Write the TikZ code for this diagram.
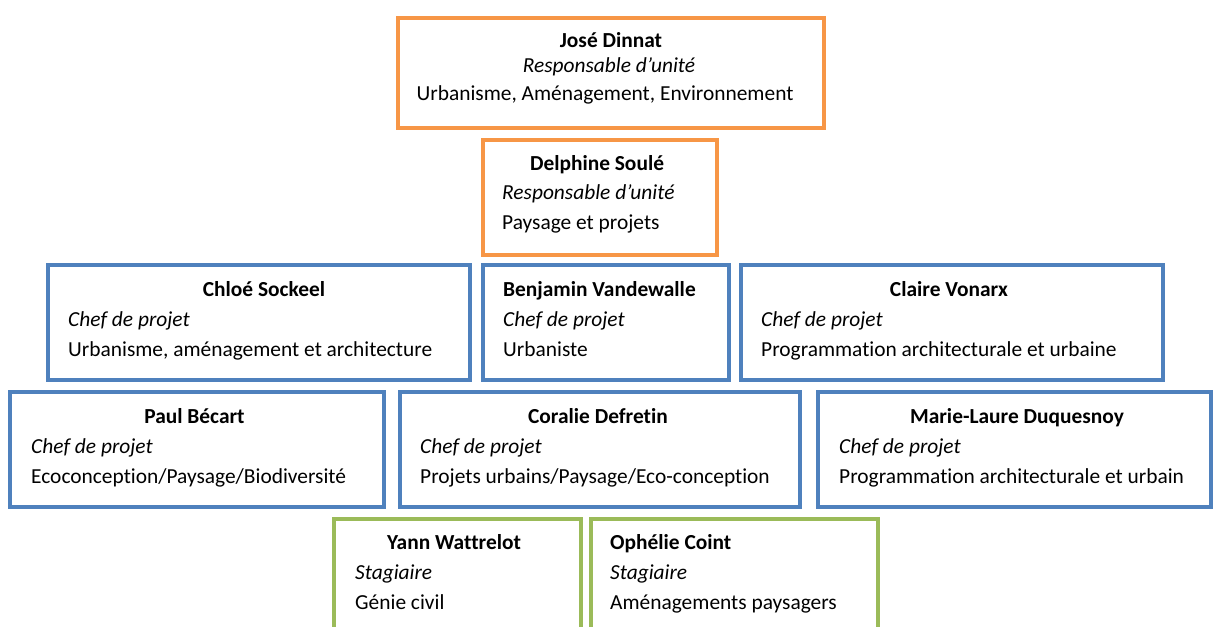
\documentclass[tikz,border=0pt]{standalone}
\usepackage{fontspec}
\setmainfont{Carlito}[Ligatures={NoCommon}]
\definecolor{borange}{HTML}{F79646}
\definecolor{bblue}{HTML}{4F81BD}
\definecolor{bgreen}{HTML}{9BBB59}
\newcommand{\fsz}{\fontsize{21.4}{25}\selectfont}
\tikzset{
  box/.style={draw, line width=4pt, rectangle, inner sep=0pt, fill=white},
  obox/.style={box, draw=borange},
  bbox/.style={box, draw=bblue},
  gbox/.style={box, draw=bgreen},
  nmc/.style={font=\bfseries\fsz, inner sep=0pt, anchor=base},
  nml/.style={nmc, anchor=base west},
  rlc/.style={font=\itshape\fsz, inner sep=0pt, anchor=base},
  rl/.style={rlc, anchor=base west},
  dlc/.style={font=\fsz, inner sep=0pt, anchor=base},
  dl/.style={dlc, anchor=base west},
}
\begin{document}
\begin{tikzpicture}[x=1pt, y=-1pt]
\useasboundingbox (0,0) rectangle (1217,626);
\clip (0,0) rectangle (1217,626);
% boxes
\node[obox, minimum width=426pt, minimum height=110pt] (jose) at (611,73) {};
\node[obox, minimum width=234pt, minimum height=115pt] (delphine) at (600,197.5) {};
\node[bbox, minimum width=422pt, minimum height=115pt] (chloe) at (259,322.5) {};
\node[bbox, minimum width=246pt, minimum height=115pt] (benjamin) at (606,322.5) {};
\node[bbox, minimum width=422pt, minimum height=115pt] (claire) at (952,322.5) {};
\node[bbox, minimum width=374pt, minimum height=115pt] (paul) at (197,449.5) {};
\node[bbox, minimum width=400pt, minimum height=115pt] (coralie) at (600,449.5) {};
\node[bbox, minimum width=393pt, minimum height=115pt] (marie) at (1014.5,449.5) {};
\node[gbox, minimum width=247pt, minimum height=119pt] (yann) at (457.5,578.5) {};
\node[gbox, minimum width=287pt, minimum height=119pt] (ophelie) at (734.5,578.5) {};
% texts
\node[nmc] (jose-n) at (611,48) {José Dinnat};
\node[rlc] (jose-r) at (609,73) {Responsable d’unité};
\node[dlc] (jose-d) at (605,100) {Urbanisme, Aménagement, Environnement};

\node[nmc] (delphine-n) at (597,170) {Delphine Soulé};
\node[rl] (delphine-r) at (502,199) {Responsable d’unité};
\node[dl] (delphine-d) at (502,229) {Paysage et projets};

\node[nmc] (chloe-n) at (264,296) {Chloé Sockeel};
\node[rl] (chloe-r) at (68,326) {Chef de projet};
\node[dl] (chloe-d) at (68,356) {Urbanisme, aménagement et architecture};

\node[nml] (benjamin-n) at (503,296) {Benjamin Vandewalle};
\node[rl] (benjamin-r) at (503,326) {Chef de projet};
\node[dl] (benjamin-d) at (503,356) {Urbaniste};

\node[nmc] (claire-n) at (949,296) {Claire Vonarx};
\node[rl] (claire-r) at (761,326) {Chef de projet};
\node[dl] (claire-d) at (761,356) {Programmation architecturale et urbaine};

\node[nmc] (paul-n) at (194.5,423) {Paul Bécart};
\node[rl] (paul-r) at (31,453) {Chef de projet};
\node[dl] (paul-d) at (31,483) {Ecoconception/Paysage/Biodiversité};

\node[nmc] (coralie-n) at (598,423) {Coralie Defretin};
\node[rl] (coralie-r) at (420,453) {Chef de projet};
\node[dl] (coralie-d) at (420,483) {Projets urbains/Paysage/Eco-conception};

\node[nmc] (marie-n) at (1017,423) {Marie-Laure Duquesnoy};
\node[rl] (marie-r) at (839,453) {Chef de projet};
\node[dl] (marie-d) at (839,483) {Programmation architecturale et urbain};

\node[nmc] (yann-n) at (454,549) {Yann Wattrelot};
\node[rl] (yann-r) at (355,579) {Stagiaire};
\node[dl] (yann-d) at (355,609) {Génie civil};

\node[nml] (ophelie-n) at (610,549) {Ophélie Coint};
\node[rl] (ophelie-r) at (610,579) {Stagiaire};
\node[dl] (ophelie-d) at (610,609) {Aménagements paysagers};
\end{tikzpicture}
\end{document}
